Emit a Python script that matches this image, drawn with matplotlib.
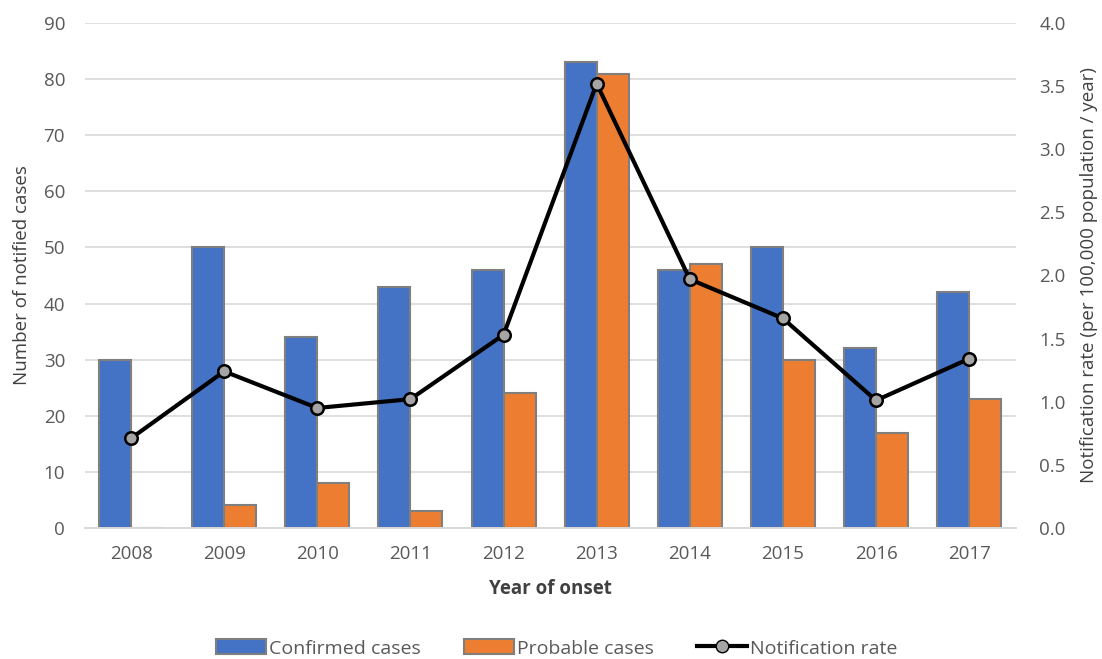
import numpy as np
import matplotlib.pyplot as plt
from matplotlib.lines import Line2D
from matplotlib.patches import Patch

plt.rcParams['font.family'] = ['Open Sans', 'DejaVu Sans']

# Data
years = ['2008', '2009', '2010', '2011', '2012', '2013', '2014', '2015', '2016', '2017']
confirmed = [30, 50, 34, 43, 46, 83, 46, 50, 32, 42]
probable = [0, 4, 8, 3, 24, 81, 47, 30, 17, 23]
rate = [0.71, 1.24, 0.95, 1.02, 1.53, 3.52, 1.97, 1.66, 1.01, 1.34]

blue = '#4472C4'
orange = '#ED7D31'
edge = '#7f7f7f'
txt = '#595959'
lab = '#404040'

fig = plt.figure(figsize=(11.02, 6.59), dpi=100)
ax = fig.add_axes([0.0767, 0.199, 0.845, 0.766])
ax2 = ax.twinx()

x = np.arange(len(years))
w = 0.344
ax.bar(x - w / 2, confirmed, w, color=blue, edgecolor=edge, linewidth=1.5, zorder=2)
ax.bar(x + w / 2, probable, w, color=orange, edgecolor=edge, linewidth=1.5, zorder=2)

ax2.plot(x, rate, color='black', lw=3, marker='o', markersize=9,
         markerfacecolor='#a5a5a5', markeredgecolor='black', markeredgewidth=1.8, zorder=3)

ax.set_xlim(-0.5, len(years) - 0.5)
ax.set_ylim(0, 90)
ax.set_yticks(range(0, 91, 10))
ax2.set_ylim(0, 4)
ax2.set_yticks(np.arange(0, 4.01, 0.5))
ax2.set_yticklabels([f'{v:.1f}' for v in np.arange(0, 4.01, 0.5)])

ax.set_xticks(x)
ax.set_xticklabels(years)
ax.yaxis.grid(True, color='#d9d9d9', lw=1.2)
ax.set_axisbelow(True)

for a in (ax, ax2):
    for s in ['top', 'left', 'right']:
        a.spines[s].set_visible(False)
    a.spines['bottom'].set_color('#d9d9d9')
    a.spines['bottom'].set_linewidth(1.2)
    a.tick_params(length=0, labelsize=13.5, labelcolor=txt, pad=12)

ax.tick_params(axis='y', pad=14)
ax2.tick_params(axis='y', pad=17)

ax.set_xlabel('Year of onset', fontsize=13.5, fontweight='bold', color=lab, labelpad=12)
ax.set_ylabel('Number of notified cases', fontsize=13.5, color=lab, labelpad=9)
ax2.set_ylabel('Notification rate (per 100,000 population / year)', fontsize=13.5, color=lab, labelpad=10)

handles = [
    Patch(facecolor=blue, edgecolor=edge, linewidth=1.5, label='Confirmed cases'),
    Patch(facecolor=orange, edgecolor=edge, linewidth=1.5, label='Probable cases'),
    Line2D([0], [0], color='black', lw=3, marker='o', markersize=9,
           markerfacecolor='#a5a5a5', markeredgecolor='black', label='Notification rate'),
]
leg = fig.legend(handles=handles, loc='center', bbox_to_anchor=(0.505, 0.016), ncol=3,
                 frameon=False, fontsize=14, handlelength=2.6, handleheight=0.8,
                 columnspacing=2.2, handletextpad=0.15)
for t in leg.get_texts():
    t.set_color(txt)

fig.savefig('out.png', dpi=100)
